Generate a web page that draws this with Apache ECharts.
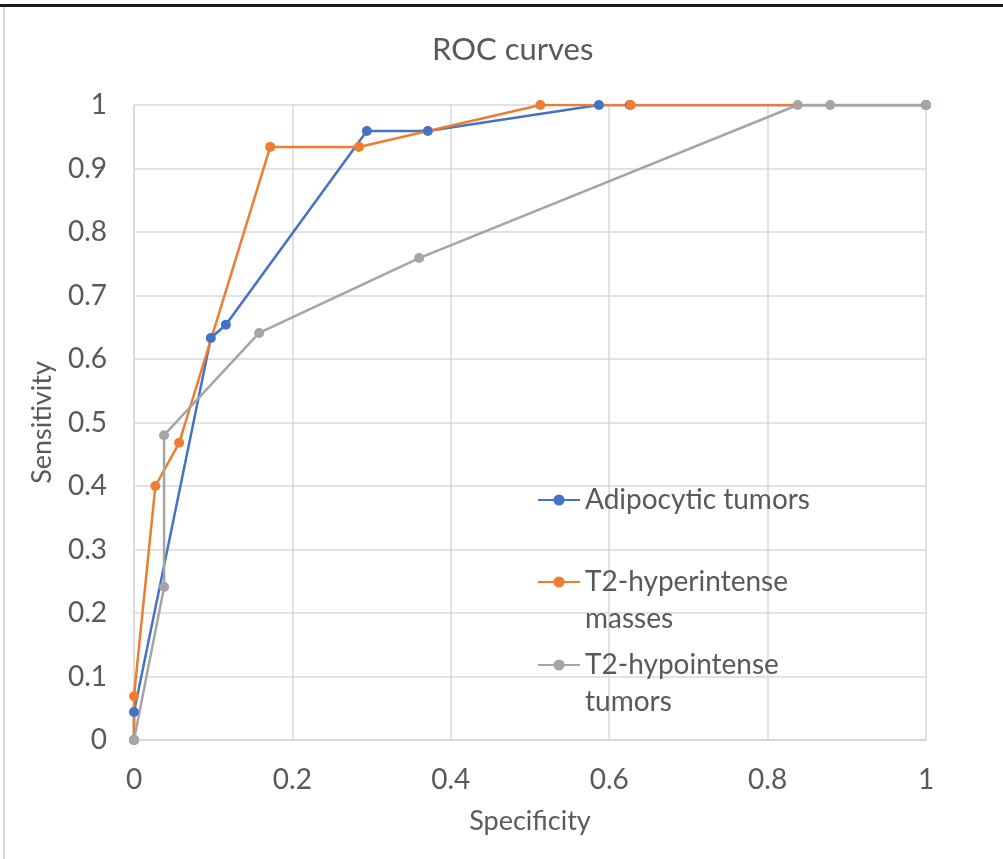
<!DOCTYPE html>
<html>
<head>
<meta charset="utf-8">
<script src="https://cdn.jsdelivr.net/npm/echarts@6/dist/echarts.min.js"></script>
<style>
html,body{margin:0;padding:0;background:#fff;}
#chart{width:1003px;height:859px;}
</style>
</head>
<body>
<div id="chart"></div>
<script>
var seriesNames = ['Adipocytic tumors', 'T2-hyperintense masses', 'T2-hypointense tumors'];
var legendLines = [['Adipocytic tumors'], ['T2-hyperintense', 'masses'], ['T2-hypointense', 'tumors']];
var adipoX = [0, 0, 0.097, 0.116, 0.294, 0.371, 0.587, 0.626, 1];
var adipoY = [0, 0.044, 0.633, 0.654, 0.959, 0.959, 1, 1, 1];
var hyperX = [0, 0, 0.027, 0.057, 0.172, 0.284, 0.513, 0.627, 1];
var hyperY = [0, 0.069, 0.40, 0.468, 0.934, 0.934, 1, 1, 1];
var hypoX = [0, 0.038, 0.038, 0.158, 0.36, 0.838, 0.879, 1];
var hypoY = [0, 0.241, 0.48, 0.641, 0.759, 1, 1, 1];
var xTicks = [0, 0.2, 0.4, 0.6, 0.8, 1];
var yTicks = [0, 0.1, 0.2, 0.3, 0.4, 0.5, 0.6, 0.7, 0.8, 0.9, 1];

function pairs(xs, ys){ return xs.map(function(x,i){ return [x, ys[i]]; }); }
var colors = ['#4472C4', '#ED7D31', '#A5A5A5'];
var font = 'Lato';
var txt = '#595959';
var LH = 37;

var chart = echarts.init(document.getElementById('chart'));
function legendAt(i, centerY){
  var lines = legendLines[i];
  var two = lines.length > 1;
  var fmt = two ? '{p| }\n{t|' + lines[0] + '}\n{t|' + lines[1] + '}' : '{t|' + lines[0] + '}';
  var h = two ? LH * 3 : LH;
  return {
    show: true, orient: 'vertical', left: 537, top: centerY - h / 2,
    padding: 0,
    data: [seriesNames[i]],
    itemWidth: 42, itemHeight: 14, itemGap: 0,
    formatter: function(){ return fmt; },
    selectedMode: false,
    textStyle: { fontFamily: font, fontSize: 28, color: txt, lineHeight: LH,
      rich: {
        p: { fontFamily: font, fontSize: 28, lineHeight: LH },
        t: { fontFamily: font, fontSize: 28, color: txt, lineHeight: LH }
      }
    }
  };
}
chart.setOption({
  backgroundColor: '#fff',
  animation: false,
  color: colors,
  title: {
    text: 'ROC curves', left: 427, top: 29,
    textStyle: { fontFamily: font, fontSize: 31, fontWeight: 'normal', color: txt }
  },
  legend: [legendAt(0, 500), legendAt(1, 582), legendAt(2, 665)],
  grid: { left: 134, right: 77, top: 105, bottom: 119, containLabel: false },
  xAxis: {
    type: 'value', min: 0, max: 1, interval: 0.2,
    name: 'Specificity', nameLocation: 'middle', nameGap: 68,
    nameTextStyle: { fontFamily: font, fontSize: 27, color: txt },
    axisLine: { show: true, lineStyle: { color: '#d9d9d9', width: 2 } },
    axisTick: { show: false },
    axisLabel: { fontFamily: font, fontSize: 28, color: txt, margin: 26,
      formatter: function(v){ return String(xTicks.find(function(t){return Math.abs(t-v)<1e-9;})); } },
    splitLine: { show: true, lineStyle: { color: '#d9d9d9', width: 1.5 } }
  },
  yAxis: {
    type: 'value', min: 0, max: 1, interval: 0.1,
    name: 'Sensitivity', nameLocation: 'middle', nameGap: 78, nameRotate: 90,
    nameTextStyle: { fontFamily: font, fontSize: 27, color: txt },
    axisLine: { show: true, lineStyle: { color: '#d9d9d9', width: 1.5 } },
    axisTick: { show: false },
    axisLabel: { fontFamily: font, fontSize: 28, color: txt, margin: 27,
      formatter: function(v){ return String(yTicks.find(function(t){return Math.abs(t-v)<1e-9;})); } },
    splitLine: { show: true, lineStyle: { color: '#d9d9d9', width: 1.5 } }
  },
  graphic: [
    { type: 'rect', shape: { x: 0, y: 4, width: 1003, height: 3 }, style: { fill: '#1a1a1a' }, silent: true },
    { type: 'rect', shape: { x: 3, y: 7, width: 2, height: 852 }, style: { fill: '#d9d9d9' }, silent: true }
  ],
  series: [
    { name: seriesNames[0], type: 'line', data: pairs(adipoX, adipoY), symbol: 'circle', symbolSize: 10, lineStyle: { width: 2.5 } },
    { name: seriesNames[1], type: 'line', data: pairs(hyperX, hyperY), symbol: 'circle', symbolSize: 10, lineStyle: { width: 2.5 } },
    { name: seriesNames[2], type: 'line', data: pairs(hypoX, hypoY), symbol: 'circle', symbolSize: 10, lineStyle: { width: 2.5 } }
  ]
});
</script>
</body>
</html>
